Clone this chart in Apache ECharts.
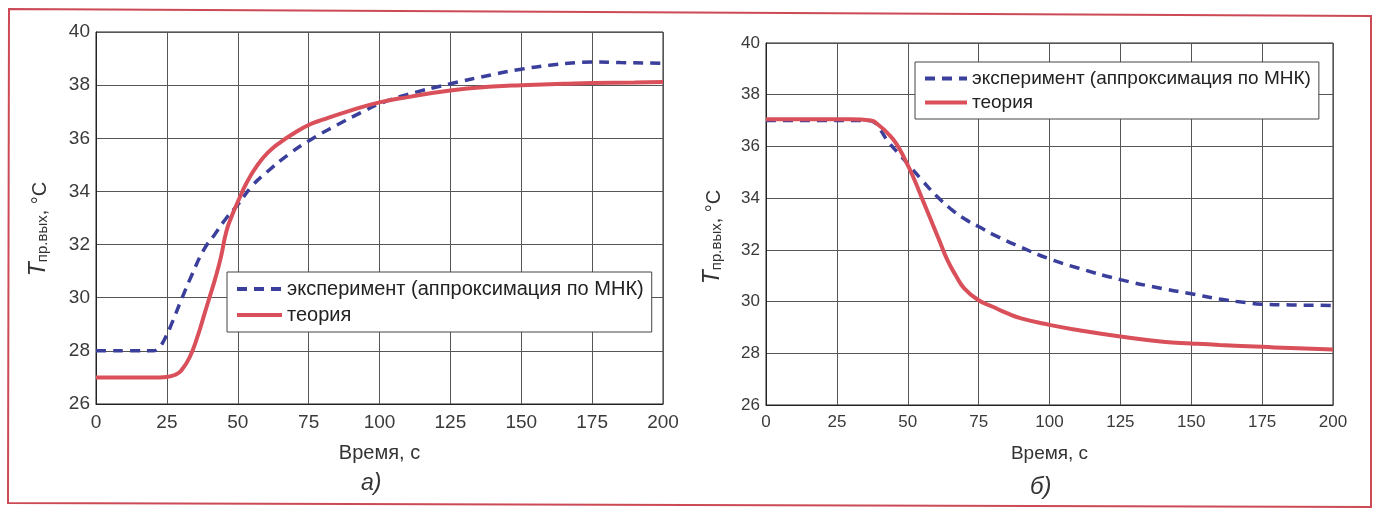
<!DOCTYPE html>
<html>
<head>
<meta charset="utf-8">
<script src="https://cdn.jsdelivr.net/npm/echarts@6/dist/echarts.min.js"></script>
<style>
  html, body { margin: 0; padding: 0; background: #fff; }
  #chart { width: 1379px; height: 512px; }
</style>
</head>
<body>
<div id="chart"></div>
<script>
// а) — нагрев
const timeA_exp = [0, 5, 10, 15, 20, 22, 24, 27, 30, 34, 38, 42, 46, 50, 55, 60, 68, 75, 85, 95, 100, 110, 125, 140, 150, 160, 170, 175, 185, 200];
const tempA_exp = [28, 28, 28, 28, 28, 28.1, 28.4, 29.1, 29.9, 30.9, 31.8, 32.4, 33.0, 33.5, 34.2, 34.7, 35.4, 35.9, 36.5, 37.05, 37.3, 37.65, 38.05, 38.4, 38.6, 38.75, 38.85, 38.87, 38.85, 38.82];
const timeA_th = [0, 10, 20, 25, 28, 30, 33, 36, 38, 40, 42, 44, 46, 48, 50, 53, 57, 61, 65, 70, 75, 80, 90, 100, 110, 125, 140, 150, 165, 175, 190, 200];
const tempA_th = [27, 27, 27, 27.02, 27.1, 27.25, 27.75, 28.6, 29.3, 30.0, 30.7, 31.5, 32.5, 33.1, 33.6, 34.3, 35.0, 35.5, 35.85, 36.2, 36.5, 36.7, 37.05, 37.35, 37.55, 37.8, 37.95, 38.0, 38.05, 38.08, 38.1, 38.12];

// б) — охлаждение
const timeB_exp = [0, 10, 20, 30, 36, 38, 40, 43, 47, 51, 55, 60, 65, 70, 75, 80, 90, 100, 110, 125, 140, 150, 160, 170, 175, 185, 200];
const tempB_exp = [37, 37, 37, 37, 37, 36.95, 36.7, 36.2, 35.7, 35.2, 34.7, 34.1, 33.6, 33.2, 32.9, 32.6, 32.1, 31.65, 31.3, 30.85, 30.5, 30.3, 30.1, 29.95, 29.9, 29.87, 29.85];
const timeB_th = [0, 10, 20, 30, 37, 40, 43, 46, 49, 52, 55, 58, 61, 64, 67, 70, 75, 80, 85, 90, 100, 110, 125, 140, 150, 160, 175, 185, 200];
const tempB_th = [37.05, 37.05, 37.05, 37.05, 37.0, 36.8, 36.5, 36.1, 35.5, 34.8, 34.0, 33.2, 32.4, 31.6, 31.0, 30.5, 30.05, 29.8, 29.55, 29.35, 29.1, 28.9, 28.65, 28.45, 28.38, 28.32, 28.25, 28.2, 28.15];

const xTicks = [0, 25, 50, 75, 100, 125, 150, 175, 200];
const yTicks = [26, 28, 30, 32, 34, 36, 38, 40];

const nameExp = "эксперимент (аппроксимация по МНК)";
const nameTh = "теория";

const zip = (t, v) => t.map((x, i) => [x, v[i]]);

const blue = "#3b3f9c";
const red = "#d9505a";
const font = "Liberation Sans, Arial, sans-serif";

function xAxis(idx, fs, nfs) {
  return {
    type: "value", gridIndex: idx,
    min: xTicks[0], max: xTicks[xTicks.length - 1], interval: 25,
    name: "Время, с", nameLocation: "middle", nameGap: 39,
    nameTextStyle: { fontFamily: font, fontSize: nfs, color: "#333" },
    axisLine: { lineStyle: { color: "#222", width: 1 } },
    axisTick: { show: false },
    axisLabel: { fontFamily: font, fontSize: fs, color: "#3a3a3a", margin: 9 },
    splitLine: { lineStyle: { color: "#555", width: 1 } },
  };
}

function yAxis(idx, fs, gap, shift) {
  return {
    type: "value", gridIndex: idx,
    min: yTicks[0], max: yTicks[yTicks.length - 1], interval: 2,
    name: "{t|T}{s|пр.вых}{n|, °C}", nameLocation: "middle", nameGap: gap,
    nameTextStyle: {
      fontFamily: font, color: "#333", padding: [0, shift, 0, 0],
      rich: {
        t: { fontSize: 23, fontStyle: "italic", lineHeight: 26, verticalAlign: "bottom", fontFamily: font, color: "#333" },
        s: { fontSize: 15, lineHeight: 24, verticalAlign: "bottom", fontFamily: font, color: "#333" },
        n: { fontSize: 20, lineHeight: 26, verticalAlign: "bottom", fontFamily: font, color: "#333" },
      },
    },
    axisLine: { show: true, lineStyle: { color: "#222", width: 1 } },
    axisTick: { show: false },
    axisLabel: { fontFamily: font, fontSize: fs, color: "#3a3a3a", margin: 6 },
    splitLine: { lineStyle: { color: "#555", width: 1 } },
  };
}

function lines(idx, exp, th) {
  return [
    {
      name: nameExp, type: "line", xAxisIndex: idx, yAxisIndex: idx,
      data: exp, smooth: true, symbol: "none",
      lineStyle: { color: blue, width: 3.5, type: [10, 7] },
      itemStyle: { color: blue },
    },
    {
      name: nameTh, type: "line", xAxisIndex: idx, yAxisIndex: idx,
      data: th, smooth: true, symbol: "none",
      lineStyle: { color: red, width: 4 },
      itemStyle: { color: red },
    },
  ];
}

function legend(left, top, fs, iw, gap) {
  return {
    data: [nameExp, nameTh],
    orient: "vertical", left: left, top: top,
    itemWidth: iw, itemHeight: 14, itemGap: gap,
    padding: [7, 8, 7, 8],
    itemStyle: { opacity: 0 },
    lineStyle: { width: 4 },
    backgroundColor: "#fff", borderColor: "#444", borderWidth: 1, borderRadius: 0,
    textStyle: { fontFamily: font, fontSize: fs, color: "#222" },
    selectedMode: false,
  };
}

const chart = echarts.init(document.getElementById("chart"));
chart.setOption({
  backgroundColor: "#fff",
  animation: false,
  grid: [
    { left: 96, top: 32, width: 567, height: 372, show: true, borderColor: "#222", borderWidth: 1, backgroundColor: "#fff" },
    { left: 766, top: 43, width: 567, height: 362, show: true, borderColor: "#222", borderWidth: 1, backgroundColor: "#fff" },
  ],
  xAxis: [xAxis(0, 19, 20), xAxis(1, 17, 19)],
  yAxis: [yAxis(0, 19, 46, 22), yAxis(1, 17, 42, 26)],
  legend: [
    legend(227, 272, 20, 45, 6),
    legend(915, 62, 19, 42, 5),
  ],
  series: [
    ...lines(0, zip(timeA_exp, tempA_exp), zip(timeA_th, tempA_th)),
    ...lines(1, zip(timeB_exp, tempB_exp), zip(timeB_th, tempB_th)),
  ],
  graphic: [
    {
      type: "polygon", silent: true, z: -1,
      shape: { points: [[9, 9], [1371, 16], [1371, 507], [8, 503]] },
      style: { fill: null, stroke: "#cc4a55", lineWidth: 2 },
    },
    { type: "text", left: 361, top: 472, style: { text: "а)", font: "italic 23px " + font, fill: "#333" } },
    { type: "text", left: 1030, top: 475, style: { text: "б)", font: "italic 24px " + font, fill: "#333" } },
  ],
});
</script>
</body>
</html>
